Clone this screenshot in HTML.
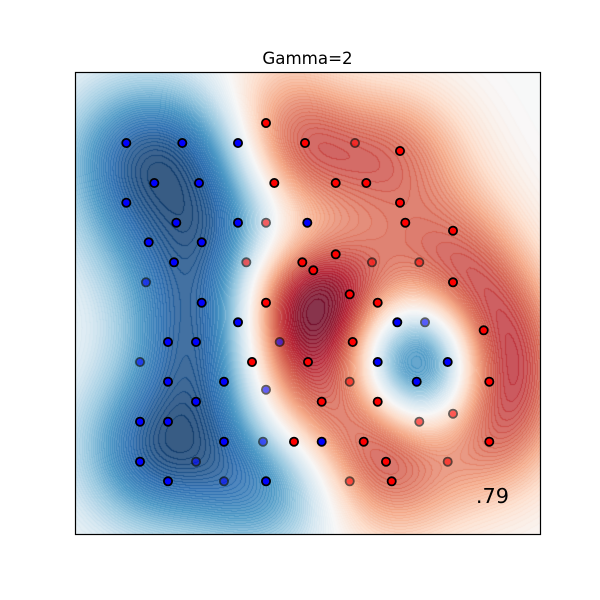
<!DOCTYPE html>
<html>
<head>
<meta charset="utf-8">
<title>Gamma=2</title>
<style>
html,body{margin:0;padding:0;background:#fff;}
#figure{position:relative;width:600px;height:600px;overflow:hidden;background:#fff;}
#decision-surface{position:absolute;left:75px;top:72px;width:465px;height:462px;}
#overlay{position:absolute;left:0;top:0;}
text{font-family:"DejaVu Sans","Liberation Sans",sans-serif;fill:#000;}
</style>
</head>
<body>
<div id="figure">
<canvas id="decision-surface" width="465" height="462"></canvas>
<svg id="overlay" width="600" height="600" viewBox="0 0 600 600">
<g id="points"></g>
<rect x="75.5" y="72.5" width="465" height="462" fill="none" stroke="#000" stroke-width="1.2"/>
<text x="307.5" y="64" font-size="16.67" text-anchor="middle">Gamma=2</text>
<text x="509" y="503" font-size="20.83" text-anchor="end">.79</text>
</svg>
</div>
<script>
// Training points (x, y in data units; 1 = blue class, -1 = red class)
const trainX = [0.513,1.073,1.63,0.793,1.24,0.513,1.013,1.63,2.323,0.737,1.267,0.99,1.267,1.63,0.93,1.21,0.93,1.49,1.21,0.65,0.93,1.49,0.65,0.93,1.91,3.223,3.027,3.727,3.417,2.467,
  1.91,2.30,1.993,3.25,2.607,2.913,3.25,3.303,3.78,2.273,2.607,2.383,3.78,2.747,1.91,3.027,4.087,2.777,1.77,2.33,4.143,2.467,3.027,2.19,2.887,4.143,3.11,3.167];
const trainY = [3.91,3.91,3.91,3.51,3.51,3.313,3.113,3.113,3.113,2.917,2.917,2.717,2.313,2.117,1.92,1.92,1.523,1.523,1.323,1.123,1.123,0.923,0.723,0.527,0.527,2.117,1.72,1.72,1.523,0.923,
  4.11,3.91,3.51,3.83,3.51,3.51,3.313,3.113,3.033,2.717,2.797,2.637,2.517,2.397,2.313,2.313,2.037,1.92,1.72,1.72,1.523,1.323,1.323,0.923,0.923,0.923,0.723,0.527];
const trainClass = [1,1,1,1,1,1,1,1,1,1,1,1,1,1,1,1,1,1,1,1,1,1,1,1,1,1,1,1,1,1,
  -1,-1,-1,-1,-1,-1,-1,-1,-1,-1,-1,-1,-1,-1,-1,-1,-1,-1,-1,-1,-1,-1,-1,-1,-1,-1,-1,-1];
// Test points, drawn translucent
const testX = [0.71,0.65,2.047,1.91,1.88,1.21,1.49,3.5,2.80,1.91,1.713,2.97,3.443,2.747,3.443,3.78,3.727,2.747];
const testY = [2.517,1.72,1.92,1.443,0.923,0.723,0.527,2.117,3.91,3.113,2.717,2.717,2.717,1.523,1.123,1.203,0.723,0.527];
const testClass = [1,1,1,1,1,1,1,1,-1,-1,-1,-1,-1,-1,-1,-1,-1,-1];
// Model and plot settings
const svmGamma = 2;
const svmC = 1;
const contourLevels = 100;
const xDomain = [0, 4.65];
const yDomain = [0, 4.62];
const featureUnitX = 1.02;
const featureUnitY = 1.03;

const plot = {left:75, top:72, width:465, height:462};
function xScale(v){ return plot.left + (v - xDomain[0]) / (xDomain[1] - xDomain[0]) * plot.width; }
function yScale(v){ return plot.top + plot.height - (v - yDomain[0]) / (yDomain[1] - yDomain[0]) * plot.height; }
function xInvert(p){ return xDomain[0] + (p - plot.left) / plot.width * (xDomain[1] - xDomain[0]); }
function yInvert(p){ return yDomain[0] + (plot.top + plot.height - p) / plot.height * (yDomain[1] - yDomain[0]); }

function kernel(ax, ay, bx, by){
  const dx = (ax - bx) / featureUnitX, dy = (ay - by) / featureUnitY;
  return Math.exp(-svmGamma * (dx * dx + dy * dy));
}

// Fit an RBF support vector classifier (maximal-violating-pair SMO)
function fitSvm(){
  const n = trainX.length;
  const alpha = new Float64Array(n), grad = new Float64Array(n).fill(-1);
  const K = [];
  for (let i = 0; i < n; i++){
    K.push(new Float64Array(n));
    for (let j = 0; j < n; j++) K[i][j] = kernel(trainX[i], trainY[i], trainX[j], trainY[j]);
  }
  let b = 0;
  for (let iter = 0; iter < 200000; iter++){
    let up = -1, low = -1, maxUp = -Infinity, minLow = Infinity;
    for (let k = 0; k < n; k++){
      const v = -trainClass[k] * grad[k];
      const inUp = trainClass[k] > 0 ? alpha[k] < svmC - 1e-12 : alpha[k] > 1e-12;
      const inLow = trainClass[k] > 0 ? alpha[k] > 1e-12 : alpha[k] < svmC - 1e-12;
      if (inUp && v > maxUp){ maxUp = v; up = k; }
      if (inLow && v < minLow){ minLow = v; low = k; }
    }
    b = (maxUp + minLow) / 2;
    if (up < 0 || low < 0 || maxUp - minLow < 1e-4) break;
    const curv = Math.max(K[up][up] + K[low][low] - 2 * K[up][low], 1e-10);
    let t = (maxUp - minLow) / curv;
    t = Math.min(t, trainClass[up] > 0 ? svmC - alpha[up] : alpha[up]);
    t = Math.min(t, trainClass[low] > 0 ? alpha[low] : svmC - alpha[low]);
    const dUp = trainClass[up] * t, dLow = -trainClass[low] * t;
    alpha[up] += dUp;
    alpha[low] += dLow;
    for (let k = 0; k < n; k++){
      grad[k] += trainClass[k] * (trainClass[up] * K[k][up] * dUp + trainClass[low] * K[k][low] * dLow);
    }
  }
  return {alpha, b};
}

const rdBuStops = [[103,0,31],[178,24,43],[214,96,77],[244,165,130],[253,219,199],[247,247,247],[209,229,240],[146,197,222],[67,147,195],[33,102,172],[5,48,97]];
function rdBu(t){
  const p = Math.max(0, Math.min(1, t)) * (rdBuStops.length - 1);
  const i = Math.min(Math.floor(p), rdBuStops.length - 2), f = p - i;
  return [0,1,2].map(c => rdBuStops[i][c] + (rdBuStops[i + 1][c] - rdBuStops[i][c]) * f);
}

function drawSurface(){
  const model = fitSvm();
  const sv = [];
  for (let i = 0; i < trainX.length; i++){
    if (model.alpha[i] > 1e-9) sv.push(i);
  }
  const W = plot.width, H = plot.height;
  const Z = new Float64Array(W * H);
  let zMin = Infinity, zMax = -Infinity;
  for (let r = 0; r < H; r++){
    const dy = yInvert(plot.top + r + 0.5);
    for (let c = 0; c < W; c++){
      const dx = xInvert(plot.left + c + 0.5);
      let z = model.b;
      for (const i of sv) z += model.alpha[i] * trainClass[i] * kernel(dx, dy, trainX[i], trainY[i]);
      Z[r * W + c] = z;
      if (z < zMin) zMin = z;
      if (z > zMax) zMax = z;
    }
  }
  const ctx = document.getElementById('decision-surface').getContext('2d');
  const img = ctx.createImageData(W, H);
  const band = z => Math.min(contourLevels - 1, Math.floor((z - zMin) / (zMax - zMin) * contourLevels));
  for (let r = 0; r < H; r++){
    for (let c = 0; c < W; c++){
      const L = band(Z[r * W + c]);
      const seam = (c + 1 < W && band(Z[r * W + c + 1]) !== L) || (r + 1 < H && band(Z[(r + 1) * W + c]) !== L);
      const a = seam ? 0.96 : 0.8;
      const col = rdBu((L + 0.5) / contourLevels);
      const o = (r * W + c) * 4;
      img.data[o] = col[0] * a + 255 * (1 - a);
      img.data[o + 1] = col[1] * a + 255 * (1 - a);
      img.data[o + 2] = col[2] * a + 255 * (1 - a);
      img.data[o + 3] = 255;
    }
  }
  ctx.putImageData(img, 0, 0);
}

function drawPoints(){
  const group = document.getElementById('points');
  const ns = 'http://www.w3.org/2000/svg';
  for (let i = 0; i < trainX.length; i++){
    const el = document.createElementNS(ns, 'circle');
    el.setAttribute('cx', xScale(trainX[i]));
    el.setAttribute('cy', yScale(trainY[i]));
    el.setAttribute('r', 4.1);
    el.setAttribute('fill', trainClass[i] > 0 ? '#0000ff' : '#ff0000');
    el.setAttribute('stroke', '#000');
    el.setAttribute('stroke-width', 1.8);
    
    
    group.appendChild(el);
  }
  for (let i = 0; i < testX.length; i++){
    const el = document.createElementNS(ns, 'circle');
    el.setAttribute('cx', xScale(testX[i]));
    el.setAttribute('cy', yScale(testY[i]));
    el.setAttribute('r', 4.1);
    el.setAttribute('fill', testClass[i] > 0 ? '#0000ff' : '#ff0000');
    el.setAttribute('stroke', '#000');
    el.setAttribute('stroke-width', 1.8);
    el.setAttribute('opacity', 0.6);
    
    
    group.appendChild(el);
  }
}

drawSurface();
drawPoints();
</script>
</body>
</html>
